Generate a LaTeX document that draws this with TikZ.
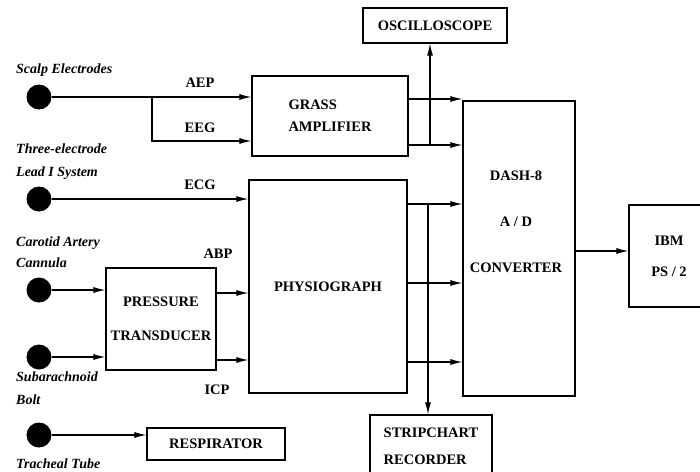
\documentclass[tikz,border=0pt]{standalone}
\usepackage{fontspec}
\setmainfont{Liberation Serif}
\usetikzlibrary{arrows.meta, positioning}

\begin{document}
\begin{tikzpicture}[
  x=1pt, y=-1pt,
  font=\fontsize{14.5}{17}\selectfont\bfseries,
  blk/.style={rectangle, draw, line width=1.2pt, inner sep=0pt, align=center},
  dot/.style={circle, fill, minimum size=25pt, inner sep=0pt},
  src/.style={anchor=west, inner sep=0pt,
              font=\fontsize{14}{17}\selectfont\bfseries\itshape},
  sig/.style={inner sep=0pt},
  arrow/.style={-{Latex[length=12pt, width=6pt]}, line width=1.1pt},
]

\useasboundingbox (0,0) rectangle (700,471);
\clip (0,0) rectangle (700,471);

% Blocks
\node[blk, minimum width=156pt, minimum height=80pt, align=left] (grass) at (330,116)
  {GRASS\\[5pt]AMPLIFIER};
\node[blk, minimum width=158pt, minimum height=213pt] (physio) at (328,286.5) {PHYSIOGRAPH};
\node[blk, minimum width=144pt, minimum height=35pt] (osc) at (435,25.5) {OSCILLOSCOPE};
\node[blk, minimum width=112pt, minimum height=295pt] (dash) at (519,248.5) {};
\node[align=center] (dashtxt) at (516,222) {DASH-8\\[29pt]A / D\\[29pt]CONVERTER};
\node[blk, minimum width=80pt, minimum height=102pt] (ibm) at (669,256) {IBM\\[14pt]PS / 2};
\node[blk, minimum width=110pt, minimum height=102pt] (pt) at (161,319)
  {PRESSURE\\[17pt]TRANSDUCER};
\node[blk, minimum width=138pt, minimum height=32pt] (resp) at (216,444) {RESPIRATOR};
\node[blk, minimum width=122pt, minimum height=62pt, align=left] (strip) at (431,446)
  {STRIPCHART\\[10pt]RECORDER};

% Sources
\node[dot] (sc1) at (39,97) {};
\node[dot] (sc2) at (39,199) {};
\node[dot] (sc3) at (39,290) {};
\node[dot] (sc4) at (39,357) {};
\node[dot] (sc5) at (39,435) {};

\node[src] (scalp) at (16,70) {Scalp Electrodes};
\node[src] (three) at (16,149) {Three-electrode};
\node[src] (lead) at (16,173) {Lead I System};
\node[src] (carotid) at (16,243) {Carotid Artery};
\node[src] (cannula) at (16,263) {Cannula};
\node[src] (subarach) at (16,377) {Subarachnoid};
\node[src] (bolt) at (16,400) {Bolt};
\node[src] (tracheal) at (16,464) {Tracheal Tube};

% Signal labels
\node[sig] (aeplbl) at (200,83) {AEP};
\node[sig] (eeglbl) at (200,128) {EEG};
\node[sig] (ecglbl) at (200,185) {ECG};
\node[sig] (abplbl) at (218,254) {ABP};
\node[sig] (icplbl) at (217,390) {ICP};

% Inputs
\coordinate (split) at (152,97);
\coordinate (eegbend) at (152,141);
\draw[arrow] (sc1) -- (sc1 -| grass.west);
\draw[arrow] (split) -- (eegbend) -- (eegbend -| grass.west);
\draw[arrow] (sc2) -- (sc2 -| physio.west);
\draw[arrow] (sc3) -- (sc3 -| pt.west);
\draw[arrow] (sc4) -- (sc4 -| pt.west);
\draw[arrow] (sc5) -- (sc5 -| resp.west);

% Transducer to physiograph
\coordinate (abp) at (0,293);
\coordinate (icp) at (0,360);
\draw[arrow] (pt.east |- abp) -- (physio.west |- abp);
\draw[arrow] (pt.east |- icp) -- (physio.west |- icp);

% Outputs to A/D
\coordinate (g1) at (0,99);
\coordinate (g2) at (0,145);
\coordinate (p1) at (0,204);
\coordinate (p2) at (0,283);
\coordinate (p3) at (0,362);
\draw[arrow] (grass.east |- g1) -- (dash.west |- g1);
\draw[arrow] (grass.east |- g2) -- (dash.west |- g2);
\draw[arrow] (physio.east |- p1) -- (dash.west |- p1);
\draw[arrow] (physio.east |- p2) -- (dash.west |- p2);
\draw[arrow] (physio.east |- p3) -- (dash.west |- p3);

% Monitors
\coordinate (otap) at (430,145);
\coordinate (stap) at (428,204);
\draw[arrow] (otap) -- (otap |- osc.south);
\draw[arrow] (stap) -- (stap |- strip.north);

% A/D to computer
\coordinate (d1) at (0,251);
\draw[arrow] (dash.east |- d1) -- (ibm.west |- d1);

\end{tikzpicture}
\end{document}
